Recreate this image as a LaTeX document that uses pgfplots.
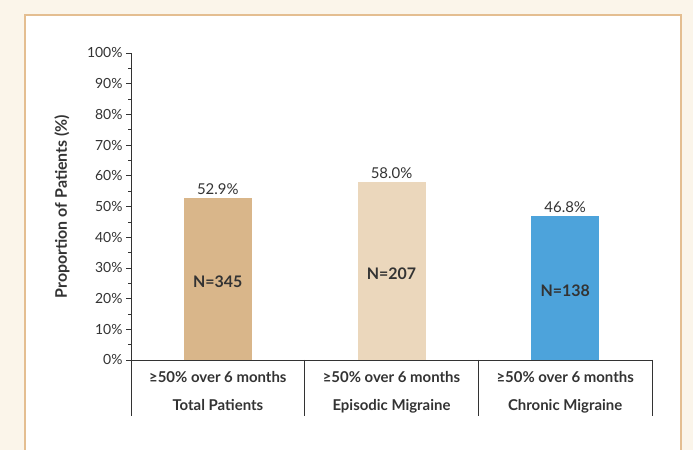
\documentclass[border=0pt]{standalone}
\usepackage{pgfplots}
\pgfplotsset{compat=1.18}
\usepackage{fontspec}
\setmainfont{Lato}

\definecolor{cream}{RGB}{251,245,234}
\definecolor{panelline}{RGB}{228,190,145}
\definecolor{tan}{RGB}{217,182,138}
\definecolor{sand}{RGB}{235,215,188}
\definecolor{sky}{RGB}{77,163,219}
\definecolor{txt}{RGB}{51,51,51}

\begin{document}
\begin{tikzpicture}
  % page background and white panel
  \fill[cream] (0bp,0bp) rectangle (693bp,450bp);
  \useasboundingbox (0bp,0bp) rectangle (693bp,450bp);
  \fill[white] (25bp,0bp) rectangle (681bp,435bp);
  \draw[panelline, line width=1.2bp] (25bp,0bp) -- (25bp,435bp) -- (681bp,435bp) -- (681bp,0bp);

  \begin{axis}[
    at={(131bp,90bp)}, anchor=south west,
    scale only axis, width=521bp, height=307bp,
    xmin=0, xmax=3, ymin=0, ymax=100,
    axis x line*=bottom, axis y line*=left,
    axis line style={draw=txt, line width=0.8bp},
    ybar, bar width=68bp, bar shift=0pt,
    clip=false,
    /pgf/number format/assume math mode=true,
    ytick={0,10,...,100}, minor ytick={5,15,...,95},
    yticklabel={\pgfmathprintnumber{\tick}\%},
    yticklabel style={font=\fontsize{14}{16}\selectfont, text=txt},
    tick align=outside, major tick length=5bp, minor tick length=3bp,
    tick style={draw=txt, line width=0.6bp},
    xtick={0.5,1.5,2.5},
    xticklabels={{≥50\% over 6 months\\Total Patients},
                 {≥50\% over 6 months\\Episodic Migraine},
                 {≥50\% over 6 months\\Chronic Migraine}},
    xticklabel style={align=center, anchor=north, text=txt,
      font=\bfseries\fontsize{15}{28}\selectfont, yshift=-3bp},
    x tick style={draw=none},
    ylabel={Proportion of Patients (\%)},
    ylabel style={at={(axis description cs:-0.1324,0.5)}, anchor=center,
      font=\bfseries\fontsize{16}{18}\selectfont, text=txt},
    nodes near coords={\pgfmathprintnumber[fixed,fixed zerofill,precision=1]{\pgfplotspointmeta}\%},
    every node near coord/.append style={font=\fontsize{15}{18}\selectfont, text=txt, inner sep=3bp},
  ]
    \addplot[fill=tan, draw=none] coordinates {(0.5,52.9)};
    \addplot[fill=sand, draw=none] coordinates {(1.5,58.0)};
    \addplot[fill=sky, draw=none] coordinates {(2.5,46.8)};

    \draw[txt, line width=0.8bp] (axis cs:0,0) -- ++(0bp,-56bp);
    \draw[txt, line width=0.8bp] (axis cs:1,0) -- ++(0bp,-56bp);
    \draw[txt, line width=0.8bp] (axis cs:2,0) -- ++(0bp,-56bp);
    \draw[txt, line width=0.8bp] (axis cs:3,0) -- ++(0bp,-56bp);
    \node[font=\bfseries\fontsize{16}{18}\selectfont, text=txt, yshift=-3bp] at (axis cs:0.5,26.45) {N=345};
    \node[font=\bfseries\fontsize{16}{18}\selectfont, text=txt, yshift=-3bp] at (axis cs:1.5,29.0) {N=207};
    \node[font=\bfseries\fontsize{16}{18}\selectfont, text=txt, yshift=-3bp] at (axis cs:2.5,23.4) {N=138};
  \end{axis}
\end{tikzpicture}
\end{document}
